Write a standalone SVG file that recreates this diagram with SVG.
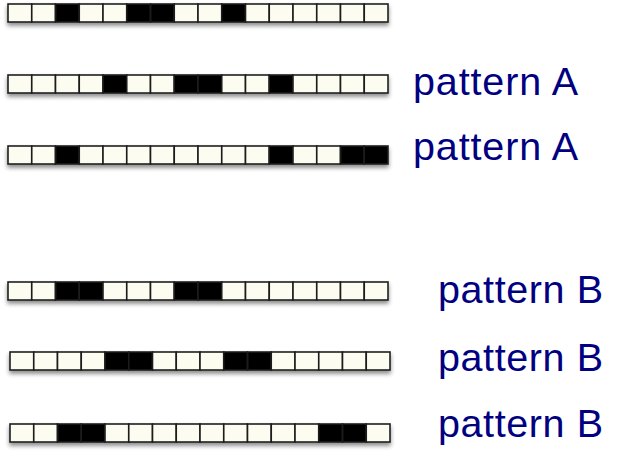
<svg xmlns="http://www.w3.org/2000/svg" width="624" height="456" viewBox="0 0 624 456">
<defs>
<filter id="sh" x="-5%" y="-50%" width="110%" height="220%">
<feDropShadow dx="0" dy="3" stdDeviation="2" flood-color="#000" flood-opacity="0.45"/>
</filter>
<style>
.w{fill:#FCFCF0;stroke:#1e1e1e;stroke-width:1.6}
.b{fill:#000;stroke:#1e1e1e;stroke-width:1.6}
.row{filter:url(#sh)}
.lbl{font-family:"Liberation Sans",Arial,sans-serif;font-size:39.5px;fill:#000080}
</style>
</defs>
<rect width="624" height="456" fill="#fff"/>
<g id="row1" class="row" transform="translate(8,4)">
<rect class="w" x="0" y="0" width="23.75" height="18"/><rect class="w" x="23.75" y="0" width="23.75" height="18"/><rect class="b" x="47.5" y="0" width="23.75" height="18"/><rect class="w" x="71.25" y="0" width="23.75" height="18"/><rect class="w" x="95" y="0" width="23.75" height="18"/><rect class="b" x="118.75" y="0" width="23.75" height="18"/><rect class="b" x="142.5" y="0" width="23.75" height="18"/><rect class="w" x="166.25" y="0" width="23.75" height="18"/><rect class="w" x="190" y="0" width="23.75" height="18"/><rect class="b" x="213.75" y="0" width="23.75" height="18"/><rect class="w" x="237.5" y="0" width="23.75" height="18"/><rect class="w" x="261.25" y="0" width="23.75" height="18"/><rect class="w" x="285" y="0" width="23.75" height="18"/><rect class="w" x="308.75" y="0" width="23.75" height="18"/><rect class="w" x="332.5" y="0" width="23.75" height="18"/><rect class="w" x="356.25" y="0" width="23.75" height="18"/>
</g>
<g id="row2" class="row" transform="translate(8,75)">
<rect class="w" x="0" y="0" width="23.75" height="18"/><rect class="w" x="23.75" y="0" width="23.75" height="18"/><rect class="w" x="47.5" y="0" width="23.75" height="18"/><rect class="w" x="71.25" y="0" width="23.75" height="18"/><rect class="b" x="95" y="0" width="23.75" height="18"/><rect class="w" x="118.75" y="0" width="23.75" height="18"/><rect class="w" x="142.5" y="0" width="23.75" height="18"/><rect class="b" x="166.25" y="0" width="23.75" height="18"/><rect class="b" x="190" y="0" width="23.75" height="18"/><rect class="w" x="213.75" y="0" width="23.75" height="18"/><rect class="w" x="237.5" y="0" width="23.75" height="18"/><rect class="b" x="261.25" y="0" width="23.75" height="18"/><rect class="w" x="285" y="0" width="23.75" height="18"/><rect class="w" x="308.75" y="0" width="23.75" height="18"/><rect class="w" x="332.5" y="0" width="23.75" height="18"/><rect class="w" x="356.25" y="0" width="23.75" height="18"/>
</g>
<g id="row3" class="row" transform="translate(8,146)">
<rect class="w" x="0" y="0" width="23.75" height="18"/><rect class="w" x="23.75" y="0" width="23.75" height="18"/><rect class="b" x="47.5" y="0" width="23.75" height="18"/><rect class="w" x="71.25" y="0" width="23.75" height="18"/><rect class="w" x="95" y="0" width="23.75" height="18"/><rect class="w" x="118.75" y="0" width="23.75" height="18"/><rect class="w" x="142.5" y="0" width="23.75" height="18"/><rect class="w" x="166.25" y="0" width="23.75" height="18"/><rect class="w" x="190" y="0" width="23.75" height="18"/><rect class="w" x="213.75" y="0" width="23.75" height="18"/><rect class="w" x="237.5" y="0" width="23.75" height="18"/><rect class="b" x="261.25" y="0" width="23.75" height="18"/><rect class="w" x="285" y="0" width="23.75" height="18"/><rect class="w" x="308.75" y="0" width="23.75" height="18"/><rect class="b" x="332.5" y="0" width="23.75" height="18"/><rect class="b" x="356.25" y="0" width="23.75" height="18"/>
</g>
<g id="row4" class="row" transform="translate(8,282)">
<rect class="w" x="0" y="0" width="23.75" height="18"/><rect class="w" x="23.75" y="0" width="23.75" height="18"/><rect class="b" x="47.5" y="0" width="23.75" height="18"/><rect class="b" x="71.25" y="0" width="23.75" height="18"/><rect class="w" x="95" y="0" width="23.75" height="18"/><rect class="w" x="118.75" y="0" width="23.75" height="18"/><rect class="w" x="142.5" y="0" width="23.75" height="18"/><rect class="b" x="166.25" y="0" width="23.75" height="18"/><rect class="b" x="190" y="0" width="23.75" height="18"/><rect class="w" x="213.75" y="0" width="23.75" height="18"/><rect class="w" x="237.5" y="0" width="23.75" height="18"/><rect class="w" x="261.25" y="0" width="23.75" height="18"/><rect class="w" x="285" y="0" width="23.75" height="18"/><rect class="w" x="308.75" y="0" width="23.75" height="18"/><rect class="w" x="332.5" y="0" width="23.75" height="18"/><rect class="w" x="356.25" y="0" width="23.75" height="18"/>
</g>
<g id="row5" class="row" transform="translate(10,352)">
<rect class="w" x="0" y="0" width="23.75" height="18"/><rect class="w" x="23.75" y="0" width="23.75" height="18"/><rect class="w" x="47.5" y="0" width="23.75" height="18"/><rect class="w" x="71.25" y="0" width="23.75" height="18"/><rect class="b" x="95" y="0" width="23.75" height="18"/><rect class="b" x="118.75" y="0" width="23.75" height="18"/><rect class="w" x="142.5" y="0" width="23.75" height="18"/><rect class="w" x="166.25" y="0" width="23.75" height="18"/><rect class="w" x="190" y="0" width="23.75" height="18"/><rect class="b" x="213.75" y="0" width="23.75" height="18"/><rect class="b" x="237.5" y="0" width="23.75" height="18"/><rect class="w" x="261.25" y="0" width="23.75" height="18"/><rect class="w" x="285" y="0" width="23.75" height="18"/><rect class="w" x="308.75" y="0" width="23.75" height="18"/><rect class="w" x="332.5" y="0" width="23.75" height="18"/><rect class="w" x="356.25" y="0" width="23.75" height="18"/>
</g>
<g id="row6" class="row" transform="translate(10,424)">
<rect class="w" x="0" y="0" width="23.75" height="18"/><rect class="w" x="23.75" y="0" width="23.75" height="18"/><rect class="b" x="47.5" y="0" width="23.75" height="18"/><rect class="b" x="71.25" y="0" width="23.75" height="18"/><rect class="w" x="95" y="0" width="23.75" height="18"/><rect class="w" x="118.75" y="0" width="23.75" height="18"/><rect class="w" x="142.5" y="0" width="23.75" height="18"/><rect class="w" x="166.25" y="0" width="23.75" height="18"/><rect class="w" x="190" y="0" width="23.75" height="18"/><rect class="w" x="213.75" y="0" width="23.75" height="18"/><rect class="w" x="237.5" y="0" width="23.75" height="18"/><rect class="w" x="261.25" y="0" width="23.75" height="18"/><rect class="w" x="285" y="0" width="23.75" height="18"/><rect class="b" x="308.75" y="0" width="23.75" height="18"/><rect class="b" x="332.5" y="0" width="23.75" height="18"/><rect class="w" x="356.25" y="0" width="23.75" height="18"/>
</g>
<g id="labels">
<text class="lbl" x="413" y="95" textLength="165">pattern A</text>
<text class="lbl" x="413" y="160" textLength="165">pattern A</text>
<text class="lbl" x="438" y="303" textLength="165">pattern B</text>
<text class="lbl" x="438" y="371" textLength="165">pattern B</text>
<text class="lbl" x="438" y="437" textLength="165">pattern B</text>
</g>
</svg>
